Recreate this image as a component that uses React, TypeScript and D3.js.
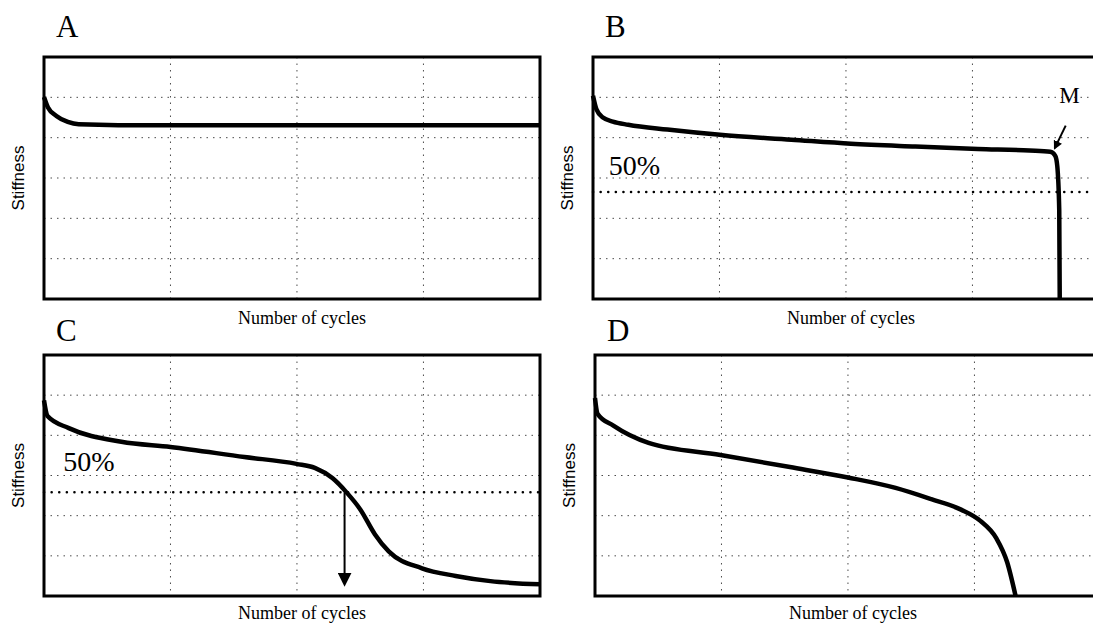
import React from "react";
import * as d3 from "d3";

// ---- data ----
const xGrid = [25.5, 51, 76.5];
const yGrid = [1, 2, 3, 4, 5];

const curveAx = [0, 0.8, 2.5, 4.8, 7, 15, 40, 70, 100];
const curveAy = [5.01, 4.75, 4.54, 4.39, 4.33, 4.31, 4.31, 4.31, 4.31];

const curveBx = [0, 0.7, 2, 4, 7.1, 15, 25.6, 40, 52, 65, 77.6, 88, 92.2, 93.2, 93.6, 94.0, 94.1];
const curveBy = [5.04, 4.7, 4.5, 4.4, 4.32, 4.2, 4.07, 3.95, 3.85, 3.78, 3.72, 3.68, 3.65, 3.55, 3.3, 2.2, 0];

const curveCx = [0, 0.7, 5, 15.6, 25.5, 40.4, 50.9, 54.6, 58.2, 61, 63.8, 66.7, 69.5, 76.2, 83, 90, 100];
const curveCy = [4.87, 4.48, 4.18, 3.84, 3.71, 3.46, 3.29, 3.19, 2.93, 2.58, 2.15, 1.54, 1.11, 0.69, 0.5, 0.37, 0.29];

const curveDx = [0, 0.5, 3.7, 10.8, 25.3, 39.3, 51, 60.6, 67.8, 73.8, 77.7, 80.9, 83.1, 84.8];
const curveDy = [4.93, 4.54, 4.24, 3.81, 3.51, 3.21, 2.95, 2.69, 2.41, 2.15, 1.87, 1.44, 0.84, 0];

const halfLevelB = 2.65;
const halfLevelC = 2.58;
const arrowCx = 60.6;
const arrowCyEnd = 0.22;
const arrowMStart = [95.3, 4.3];
const arrowMEnd = [93.1, 3.74];
const mLabel = [94.0, 4.85];
const pctLabelB = [3.2, 3.08];
const pctLabelC = [3.9, 3.1];

const xLabel = "Number of cycles";
const yLabel = "Stiffness";

// ---- layout ----
const boxW = 496;
const panels = [
  { letter: "A", x0: 44, y0: 57, h: 242, clipRight: false, cx: curveAx, cy: curveAy, ly: 37, lb: 25 },
  { letter: "B", x0: 593, y0: 57, h: 242, clipRight: true, cx: curveBx, cy: curveBy, ly: 37, lb: 25 },
  { letter: "C", x0: 44, y0: 355, h: 241, clipRight: false, cx: curveCx, cy: curveCy, ly: 341, lb: 23 },
  { letter: "D", x0: 595, y0: 355, h: 241, clipRight: true, cx: curveDx, cy: curveDy, ly: 341, lb: 23 },
];

function Panel({ p }: { p: any }) {
  const boxH = p.h;
  const x = d3.scaleLinear().domain([0, 100]).range([p.x0, p.x0 + boxW]);
  const y = d3.scaleLinear().domain([0, 6]).range([p.y0 + boxH, p.y0]);
  const pts = p.cx.map((v: number, i: number) => [v, p.cy[i]] as [number, number]);
  const line = d3
    .line<[number, number]>()
    .x((d) => x(d[0]))
    .y((d) => y(d[1]))
    .curve(d3.curveMonotoneX);
  const rectW = p.clipRight ? 540 : boxW;
  const gridStyle = { stroke: "#000", strokeWidth: 1, strokeDasharray: "1.5,5", opacity: 0.7 };
  return (
    <g>
      <text x={p.x0 + 12} y={p.ly} fontFamily="Liberation Serif" fontSize={31}>
        {p.letter}
      </text>
      {xGrid.map((g) => (
        <line key={"xg" + g} x1={x(g)} x2={x(g)} y1={p.y0} y2={p.y0 + boxH} style={gridStyle} />
      ))}
      {yGrid.map((g) => (
        <line key={"yg" + g} x1={p.x0} x2={p.x0 + rectW} y1={y(g)} y2={y(g)} style={gridStyle} />
      ))}
      <rect x={p.x0} y={p.y0} width={rectW} height={boxH} fill="none" stroke="#000" strokeWidth={3} />
      <path d={line(pts) || ""} fill="none" stroke="#000" strokeWidth={4.5} strokeLinejoin="round" />
      <text
        transform={`translate(${p.x0 - 20},${p.y0 + boxH / 2}) rotate(-90)`}
        textAnchor="middle"
        fontFamily="Liberation Sans"
        fontSize={17}
      >
        {yLabel}
      </text>
      <text
        x={p.x0 + 258}
        y={p.y0 + boxH + p.lb}
        textAnchor="middle"
        fontFamily="Liberation Serif"
        fontSize={18}
      >
        {xLabel}
      </text>
      {p.letter === "B" && (
        <g>
          <line
            x1={p.x0}
            x2={p.x0 + rectW}
            y1={y(halfLevelB)}
            y2={y(halfLevelB)}
            stroke="#000"
            strokeWidth={2.5}
            strokeLinecap="round"
            strokeDasharray="0.1,7.5"
          />
          <text x={x(pctLabelB[0])} y={y(pctLabelB[1])} fontFamily="Liberation Serif" fontSize={28}>
            50%
          </text>
          <text x={x(mLabel[0])} y={y(mLabel[1])} fontFamily="Liberation Serif" fontSize={23}>
            M
          </text>
          <line
            x1={x(arrowMStart[0])}
            y1={y(arrowMStart[1])}
            x2={x(arrowMEnd[0])}
            y2={y(arrowMEnd[1])}
            stroke="#000"
            strokeWidth={2}
            markerEnd="url(#arrowSmall)"
          />
        </g>
      )}
      {p.letter === "C" && (
        <g>
          <line
            x1={p.x0}
            x2={p.x0 + rectW}
            y1={y(halfLevelC)}
            y2={y(halfLevelC)}
            stroke="#000"
            strokeWidth={2.5}
            strokeLinecap="round"
            strokeDasharray="0.1,7.5"
          />
          <text x={x(pctLabelC[0])} y={y(pctLabelC[1])} fontFamily="Liberation Serif" fontSize={28}>
            50%
          </text>
          <line
            x1={x(arrowCx)}
            y1={y(halfLevelC)}
            x2={x(arrowCx)}
            y2={y(arrowCyEnd) - 13}
            stroke="#000"
            strokeWidth={2}
            markerEnd="url(#arrowBig)"
          />
        </g>
      )}
    </g>
  );
}

export default function App() {
  return (
    <svg
      width={1093}
      height={628}
      style={{ position: "absolute", left: 0, top: 0, background: "#fff" }}
    >
      <defs>
        <marker id="arrowSmall" viewBox="0 0 10 10" refX="8" refY="5" markerWidth="4.5" markerHeight="4.5" orient="auto">
          <path d="M0,0 L10,5 L0,10 z" fill="#000" />
        </marker>
        <marker id="arrowBig" viewBox="0 0 10 10" refX="1" refY="5" markerWidth="14" markerHeight="14" orient="auto" markerUnits="userSpaceOnUse">
          <path d="M0,0 L10,5 L0,10 z" fill="#000" />
        </marker>
      </defs>
      <rect x={0} y={0} width={1093} height={628} fill="#fff" />
      {panels.map((p) => (
        <Panel key={p.letter} p={p} />
      ))}
    </svg>
  );
}
